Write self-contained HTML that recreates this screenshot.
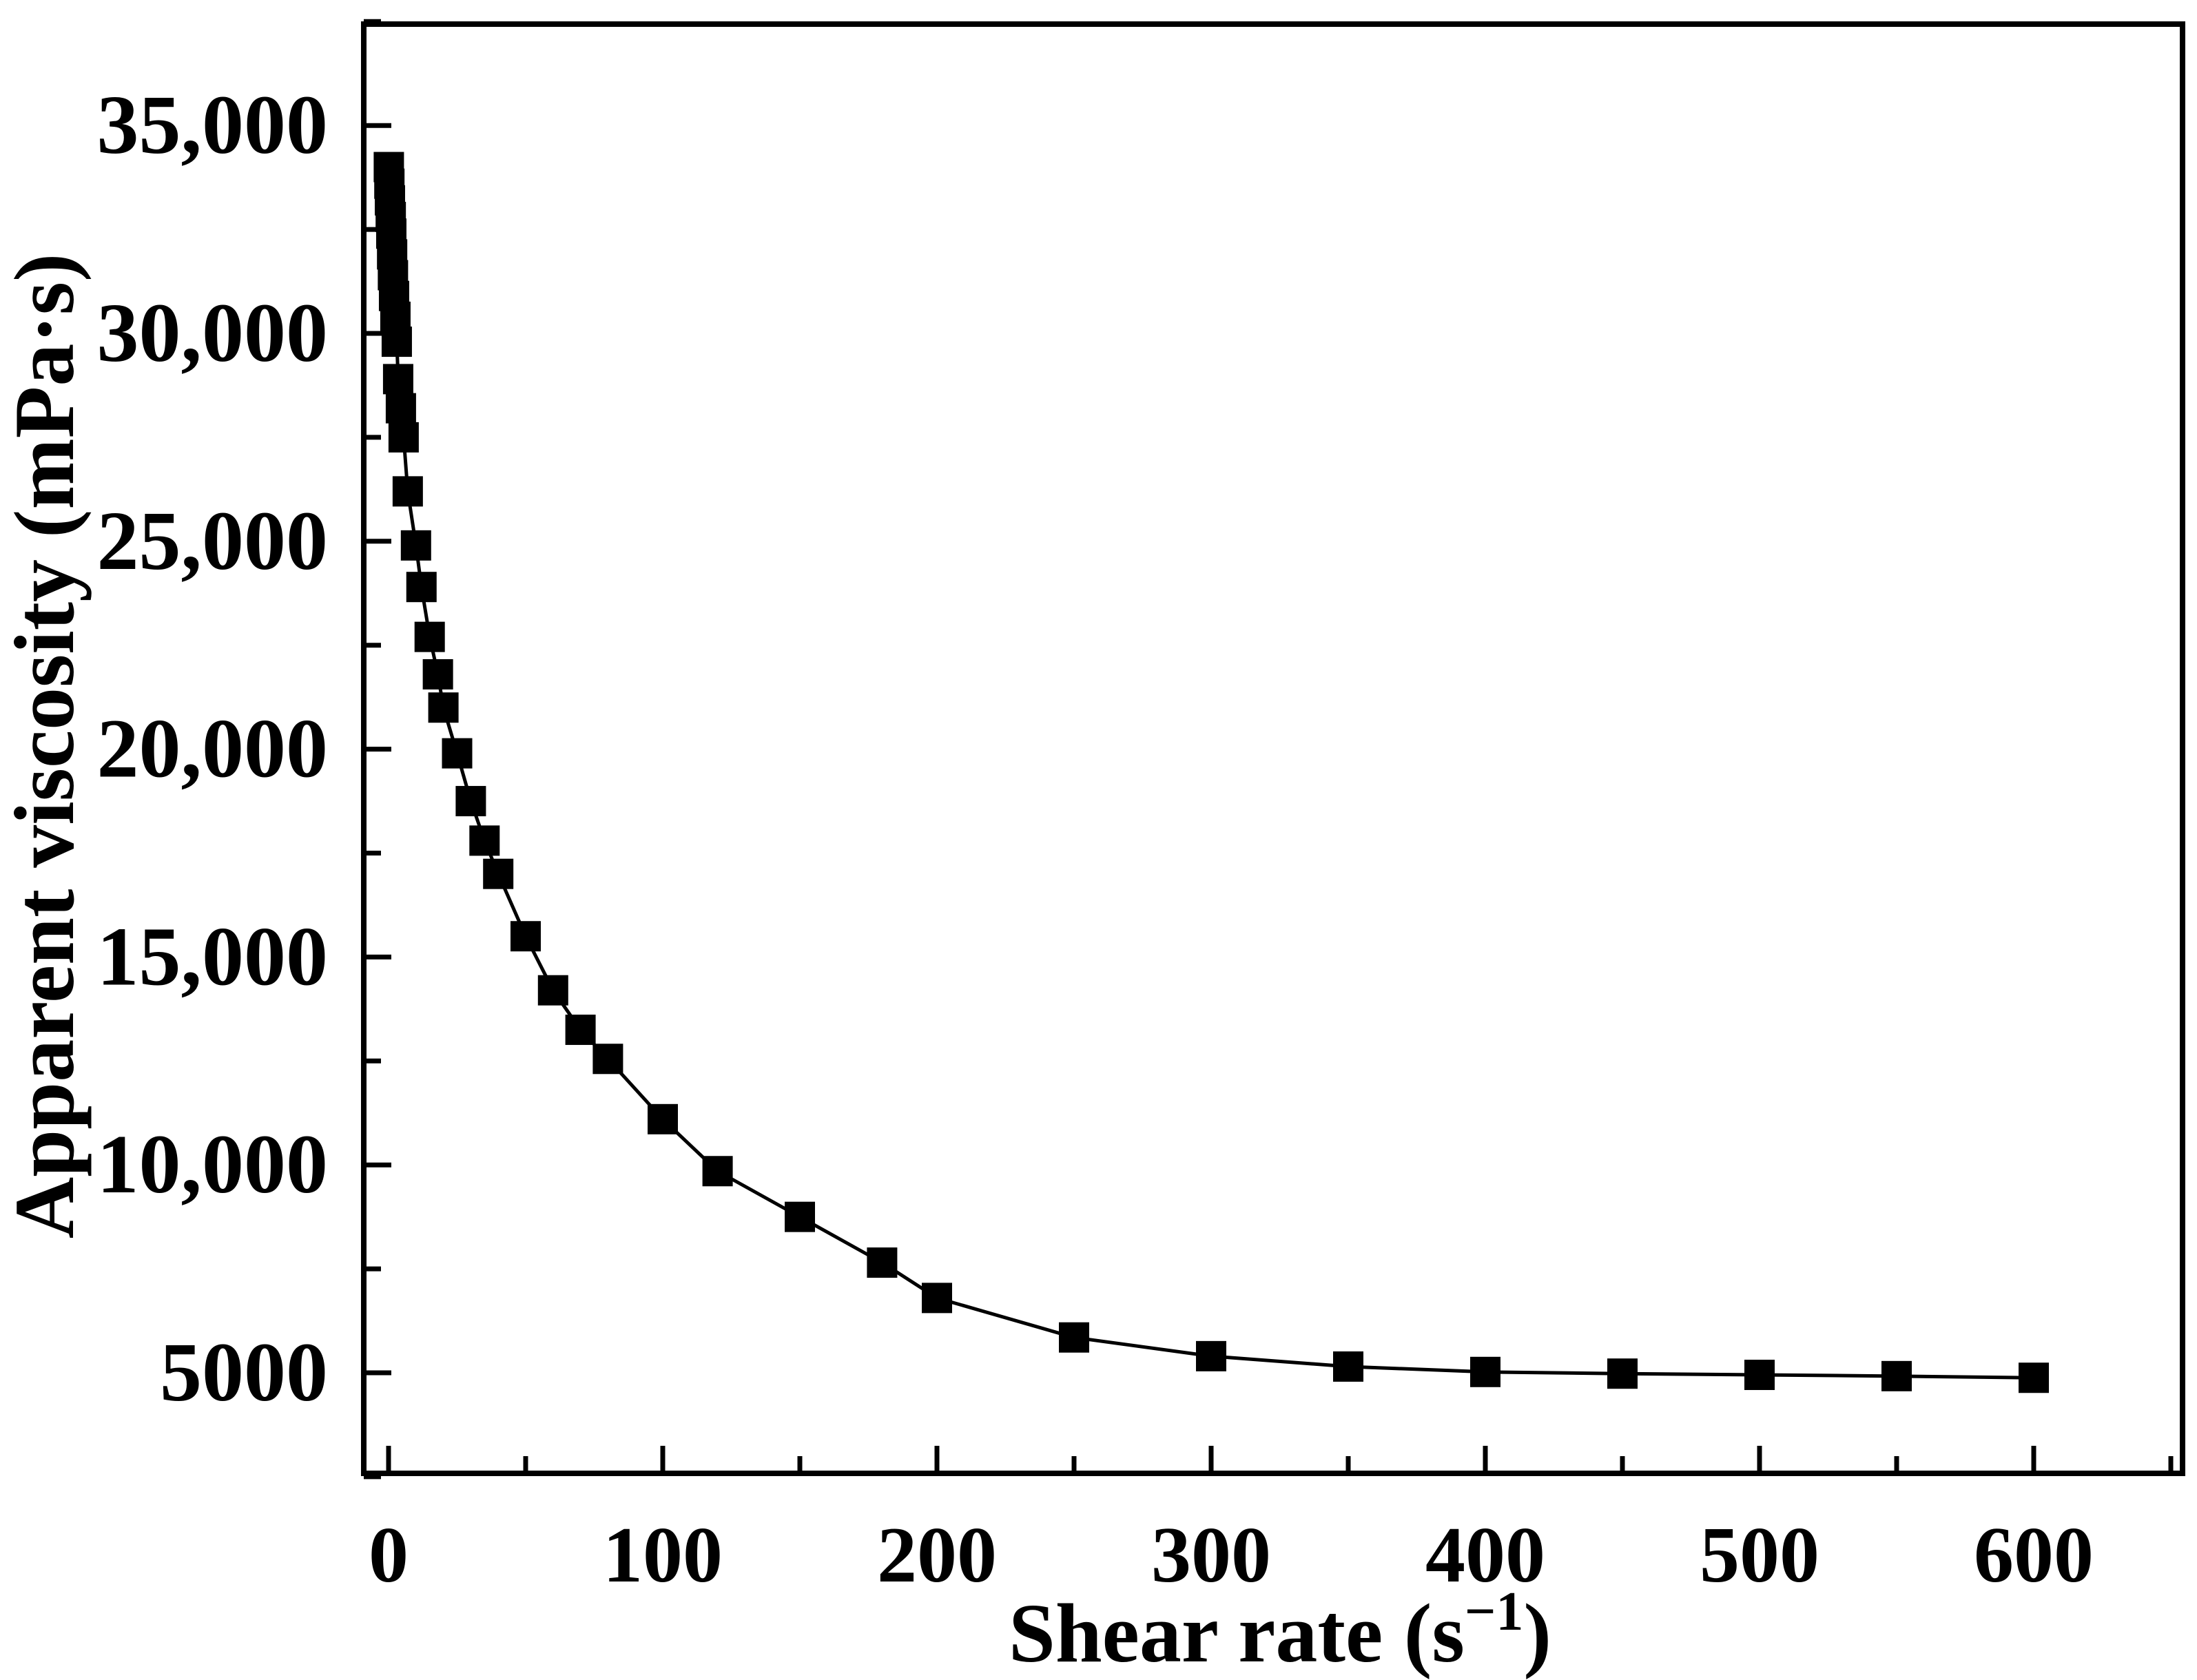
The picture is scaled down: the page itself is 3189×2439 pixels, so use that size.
<!DOCTYPE html>
<html><head><meta charset="utf-8"><style>
html,body{margin:0;padding:0;background:#fff;}
svg{display:block;font-family:"Liberation Serif",serif;font-weight:bold;}
</style></head><body>
<svg id="chart" width="3189" height="2439" viewBox="0 0 3189 2439" xmlns="http://www.w3.org/2000/svg">
<rect x="528" y="35" width="2640" height="2104" fill="none" stroke="#000" stroke-width="8"/>
<g id="axes"></g>
<g id="series"></g>
<text x="1858" y="2412" text-anchor="middle" font-size="122">Shear rate (s<tspan font-size="80" dy="-46">−1</tspan><tspan dy="46">)</tspan></text>
<text transform="translate(106,1083) rotate(-90)" text-anchor="middle" font-size="124">Apparent viscosity (mPa·s)</text>
</svg>
<script>
const xData=[0.1,0.3,0.5,0.8,1,1.3,1.6,2,2.5,3,3.5,4.5,5.5,7,10,12,15,18,20,25,30,35,40,50,60,70,80,100,120,150,180,200,250,300,350,400,450,500,550,600];
const yData=[34000,33600,33200,32800,32400,31900,31400,30900,30400,29800,28900,28200,27500,26200,24900,23900,22700,21800,21000,19900,18750,17800,17000,15500,14200,13250,12550,11100,9850,8750,7650,6800,5850,5400,5150,5020,4980,4950,4920,4880];
const xTicks=[0,100,200,300,400,500,600];
const xTickLabels=["0","100","200","300","400","500","600"];
const yTicks=[5000,10000,15000,20000,25000,30000,35000];
const yTickLabels=["5000","10,000","15,000","20,000","25,000","30,000","35,000"];
const NS="http://www.w3.org/2000/svg";
function X(v){return 564+v*3.98;}
function Y(v){return 1993-(v-5000)*301.8/5000;}
function mk(tag,attrs,parent){const e=document.createElementNS(NS,tag);for(const k in attrs)e.setAttribute(k,attrs[k]);parent.appendChild(e);return e;}
const axes=document.getElementById('axes');
const bottom=2139,left=528;
for(let v=0;v<=650;v+=50){
  const major=v%100===0;
  const t=mk('line',{x1:X(v),x2:X(v),y1:bottom,y2:bottom-(major?40:25),stroke:'#000','stroke-width':7},axes);
  
  
}
xTicks.forEach((v,i)=>{
  const t=mk('text',{x:X(v),y:2296,'text-anchor':'middle','font-size':116},axes);
  t.textContent=xTickLabels[i];
  
  
});
for(let v=2500;v<=37500;v+=2500){
  const major=v%5000===0;
  const t=mk('line',{x1:left,x2:left+(major?40:25),y1:Y(v),y2:Y(v),stroke:'#000','stroke-width':7},axes);
  
  
}
yTicks.forEach((v,i)=>{
  const t=mk('text',{x:476,y:Y(v)+40,'text-anchor':'end','font-size':122},axes);
  t.textContent=yTickLabels[i];
  
  
});
const series=document.getElementById('series');
const pts=xData.map((v,i)=>X(v)+','+Y(yData[i])).join(' ');
const line=mk('polyline',{points:pts,fill:'none',stroke:'#000','stroke-width':5},series);


xData.forEach((v,i)=>{
  const s=44;
  const r=mk('rect',{x:X(v)-s/2,y:Y(yData[i])-s/2,width:s,height:s,fill:'#000'},series);
  
  
});
</script>
</body></html>
